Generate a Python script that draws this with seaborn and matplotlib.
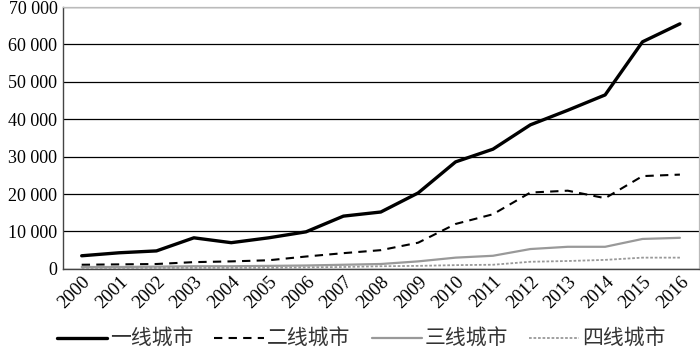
import matplotlib
matplotlib.use("Agg")
import matplotlib.pyplot as plt
import seaborn as sns
import pandas as pd
from matplotlib.ticker import FuncFormatter, MultipleLocator

years = [str(y) for y in range(2000, 2017)]
tier1 = [3500, 4300, 4800, 8300, 7000, 8300, 9900, 14100, 15200, 20300, 28600, 32000, 38500, 42400, 46500, 60700, 65500]
tier2 = [1100, 1200, 1300, 1800, 2000, 2300, 3300, 4200, 5000, 7000, 12000, 14600, 20400, 20900, 18900, 24800, 25200]
tier3 = [500, 500, 600, 700, 700, 800, 900, 1100, 1300, 2000, 3000, 3500, 5300, 5900, 5900, 8000, 8300]
tier4 = [300, 300, 300, 300, 300, 300, 400, 500, 700, 800, 1000, 1100, 1900, 2100, 2400, 3000, 3000]
names = ["一线城市", "二线城市", "三线城市", "四线城市"]

sns.set_theme(style="white")
plt.rcParams['font.family'] = ['Liberation Serif', 'Noto Sans CJK SC']

rows = []
for name, vals in zip(names, [tier1, tier2, tier3, tier4]):
    for yr, v in zip(years, vals):
        rows.append({"year": yr, "value": v, "tier": name})
df = pd.DataFrame(rows)

fig = plt.figure(figsize=(7.0, 3.51), dpi=100)
ax = fig.add_axes([0.09, 0.234, 0.908, 0.746])

styles = {
    "一线城市": dict(color="black", lw=2.4, ls="-"),
    "二线城市": dict(color="black", lw=1.5, ls=(0, (4, 3))),
    "三线城市": dict(color="#999999", lw=1.6, ls="-"),
    "四线城市": dict(color="#999999", lw=1.3, ls=(0, (1.5, 1))),
}
for name in names:
    sub = df[df["tier"] == name]
    st = styles[name]
    sns.lineplot(data=sub, x="year", y="value", ax=ax, color=st["color"],
                 linewidth=st["lw"], linestyle=st["ls"], label=name, sort=False)

ax.set_xlim(-0.5, len(years) - 0.5)
ax.set_ylim(0, 70000)
ax.yaxis.set_major_locator(MultipleLocator(10000))
ax.yaxis.set_major_formatter(FuncFormatter(lambda v, p: f"{int(v):,}".replace(",", " ")))
ax.grid(axis="y", color="black", linewidth=0.9)
ax.set_axisbelow(True)
ax.set_xlabel("")
ax.set_ylabel("")
for s in ["top", "right"]:
    ax.spines[s].set_color("#bbbbbb")
    ax.spines[s].set_linewidth(0.9)
for s in ["left", "bottom"]:
    ax.spines[s].set_color("#444444")
    ax.spines[s].set_linewidth(1.0)
ax.tick_params(axis="y", labelsize=13, length=0, pad=4, colors="black")
ax.tick_params(axis="x", labelsize=13.5, length=0, pad=3, colors="black")
plt.setp(ax.get_xticklabels(), rotation=45, ha="right", rotation_mode="anchor")

handles, labels = ax.get_legend_handles_labels()
ax.get_legend().remove()
leg = fig.legend(handles, labels, loc="center", bbox_to_anchor=(0.516, 0.031),
                 bbox_transform=fig.transFigure, ncol=4, frameon=False,
                 fontsize=15, handlelength=2.4, handletextpad=0.15, columnspacing=1.0,
                 borderpad=0, borderaxespad=0)
for t in leg.get_texts():
    t.set_color("#333333")

fig.savefig("out.png", dpi=100)
